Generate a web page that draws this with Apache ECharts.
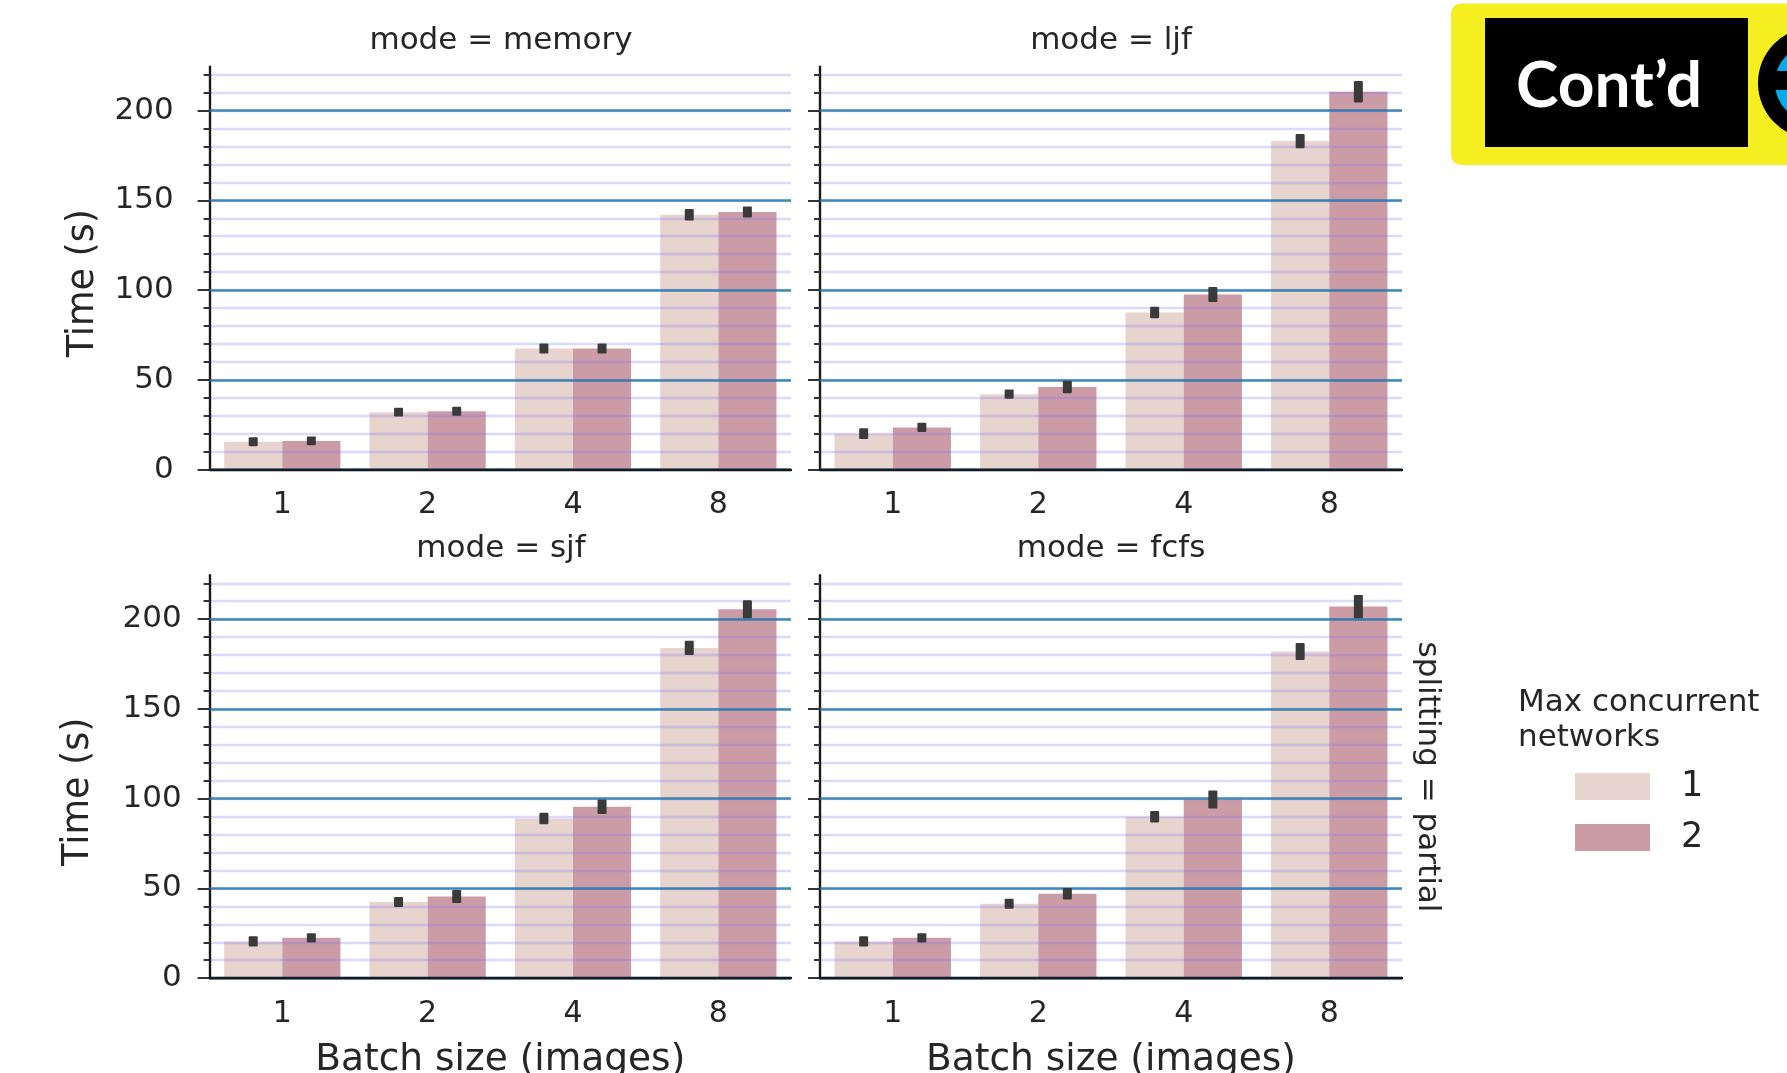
<!DOCTYPE html>
<html>
<head>
<meta charset="utf-8">
<style>
html,body{margin:0;padding:0;background:#fff;overflow:hidden}
#chart{width:1787px;height:1073px;filter:blur(0.7px)}
</style>
<script src="https://cdn.jsdelivr.net/npm/echarts@6/dist/echarts.min.js"></script>
</head>
<body>
<div id="chart"></div>
<script>
const categories = ['1','2','4','8'];
const seriesNames = ['1','2'];
const panelModes = ['memory','ljf','sjf','fcfs'];

const memory1 = [15.5, 32, 67.5, 142];
const memory2 = [16, 32.5, 67.5, 143.5];
const ljf1 = [20, 42, 87.5, 183];
const ljf2 = [23.5, 46, 97.5, 210.5];
const sjf1 = [20.5, 42.5, 89, 184];
const sjf2 = [22.5, 45.5, 95.5, 205.5];
const fcfs1 = [20.5, 41.5, 90, 182];
const fcfs2 = [22.5, 47, 99.5, 207];

const memoryErr1 = [2.5, 2.4, 2.8, 3.2];
const memoryErr2 = [2.5, 2.5, 2.8, 3];
const ljfErr1 = [3, 2.6, 3.2, 4];
const ljfErr2 = [2.6, 3.5, 4.2, 6];
const sjfErr1 = [2.8, 2.8, 3.2, 4];
const sjfErr2 = [2.6, 3.6, 4, 5];
const fcfsErr1 = [2.8, 2.8, 3.2, 4.8];
const fcfsErr2 = [2.6, 3.2, 5, 6.5];

const majorTicks = [0, 50, 100, 150, 200];
const minorTicks = [0,10,20,30,40,50,60,70,80,90,100,110,120,130,140,150,160,170,180,190,200,210,220];

const panelValues = [[memory1, memory2],[ljf1, ljf2],[sjf1, sjf2],[fcfs1, fcfs2]];
const panelErrors = [[memoryErr1, memoryErr2],[ljfErr1, ljfErr2],[sjfErr1, sjfErr2],[fcfsErr1, fcfsErr2]];

const yMax = 224.5;
const FONT = '"DejaVu Sans"';
const INK = '#262626';
const BAR_COLORS = ['#e8d4cf', '#cc9ca6'];
const panels = [
  {left: 209.6, top: 66.6, width: 581.4, height: 403, labels: true, margin: 36, nameGap: 108, xName: false, tc: 496, pad: [0, 0, 0, 0]},
  {left: 820, top: 66.6, width: 582, height: 403, labels: false, xName: false, tc: 1106, pad: [0, 0, 0, 0]},
  {left: 209.6, top: 575.2, width: 581.4, height: 403, labels: true, margin: 28, nameGap: 113, xName: true, tc: 496, pad: [6, 0, 0, 0]},
  {left: 820, top: 575.2, width: 582, height: 403, labels: false, xName: true, tc: 1106, pad: [0, 0, 0, 0]}
];

const grid = [], xAxis = [], yAxis = [], series = [], title = [];
panels.forEach((p, i) => {
  grid.push({left: p.left, top: p.top, width: p.width, height: p.height, outerBoundsMode: 'none'});
  title.push({
    text: 'mode = ' + panelModes[i],
    left: p.tc,
    top: p.top - 46 - (i > 1 ? 1 : 0),
    textAlign: 'center',
    textStyle: {fontFamily: FONT, fontSize: 31, fontWeight: 'normal', color: INK}
  });
  xAxis.push({
    type: 'category', gridIndex: i, data: categories, z: 6,
    axisLine: {onZero: false, lineStyle: {color: '#1a1a1a', width: 2.4}},
    axisTick: {alignWithLabel: true, length: 9, lineStyle: {color: '#333', width: 2}},
    axisLabel: {fontFamily: FONT, fontSize: 30, color: INK, margin: 21},
    name: p.xName ? 'Batch size (images)' : '',
    nameLocation: 'middle', nameGap: 63,
    nameTextStyle: {fontFamily: FONT, fontSize: 37.5, color: INK}
  });
  // minor ladder
  yAxis.push({
    type: 'value', gridIndex: i, position: 'left', min: 0, max: yMax, interval: 10, z: 4,
    axisLine: {show: true, lineStyle: {color: '#1a1a1a', width: 2.4}},
    axisTick: {show: true, length: 6, customValues: minorTicks, lineStyle: {color: '#333', width: 2}},
    axisLabel: {show: false},
    splitLine: {show: true, showMaxLine: true, lineStyle: {color: 'rgba(120,110,255,0.26)', width: 2.4}}
  });
  // major ladder
  yAxis.push({
    type: 'value', gridIndex: i, position: 'left', min: 0, max: yMax, interval: 50, z: 5,
    axisLine: {show: false},
    axisTick: {show: true, length: 12, customValues: majorTicks, lineStyle: {color: '#333', width: 2}},
    axisLabel: {show: p.labels, customValues: majorTicks, margin: p.margin || 20, fontFamily: FONT, fontSize: 31, color: INK, padding: p.pad},
    name: p.labels ? 'Time (s)' : '',
    nameLocation: 'middle', nameGap: p.nameGap || 0, nameRotate: 90,
    nameTextStyle: {fontFamily: FONT, fontSize: 36.5, color: INK, padding: [0, 30, 0, 0]},
    splitLine: {show: true, showMaxLine: true, lineStyle: {color: 'rgba(35,120,170,0.85)', width: 2.6}}
  });
  seriesNames.forEach((name, s) => {
    series.push({
      type: 'bar', name, xAxisIndex: i, yAxisIndex: i * 2,
      data: panelValues[i][s],
      barWidth: '40%', barGap: '0%', z: 2,
      itemStyle: {color: BAR_COLORS[s]},
      silent: true
    });
    series.push({
      type: 'custom', name: 'err' + name, xAxisIndex: i, yAxisIndex: i * 2, z: 7, silent: true,
      data: panelValues[i][s].map((v, k) => [k, v - panelErrors[i][s][k], v + panelErrors[i][s][k]]),
      encode: {x: 0, y: [1, 2]},
      renderItem: (params, api) => {
        const band = api.size([1, 0])[0];
        const off = (s === 0 ? -0.2 : 0.2) * band;
        const lo = api.coord([api.value(0), api.value(1)]);
        const hi = api.coord([api.value(0), api.value(2)]);
        return {
          type: 'rect',
          shape: {x: lo[0] + off - 4.5, y: hi[1], width: 9, height: lo[1] - hi[1], r: 1},
          style: {fill: '#3a3a3a'}
        };
      }
    });
  });
});

const graphic = [
  {type: 'rect', z: 20, shape: {x: 1451, y: 3.4, width: 400, height: 161.6, r: 10}, style: {fill: '#f5ee20'}},
  {type: 'rect', z: 21, shape: {x: 1485, y: 18, width: 263, height: 129}, style: {fill: '#000'}},
  {type: 'text', z: 22, style: {x: 1609, y: 86, text: 'Cont\u2019d', fill: '#fff', align: 'center', verticalAlign: 'middle',
    font: 'bold 64px Lato'}},
  {type: 'circle', z: 21, shape: {cx: 1814, cy: 83, r: 56}, style: {fill: '#000'}},
  {type: 'circle', z: 22, shape: {cx: 1814, cy: 83, r: 39}, style: {fill: '#00aeef'}},
  {type: 'rect', z: 23, shape: {x: 1770, y: 71, width: 60, height: 19}, style: {fill: '#000'}},
  {type: 'text', z: 10, x: 1427, y: 777, rotation: -Math.PI / 2,
    style: {x: 0, y: 0, text: 'splitting = partial', fill: INK, align: 'center', verticalAlign: 'middle', font: '31px "DejaVu Sans"'}},
  {type: 'text', z: 10, style: {x: 1518, y: 703, text: 'Max concurrent', fill: INK, align: 'left', verticalAlign: 'middle', font: '31px "DejaVu Sans"'}},
  {type: 'text', z: 10, style: {x: 1518, y: 738, text: 'networks', fill: INK, align: 'left', verticalAlign: 'middle', font: '31px "DejaVu Sans"'}}
];

const chart = echarts.init(document.getElementById('chart'), null, {renderer: 'canvas'});
chart.setOption({
  animation: false,
  backgroundColor: '#fff',
  title, grid, xAxis, yAxis, series, graphic,
  legend: {
    data: seriesNames, orient: 'vertical', left: 1570, top: 764,
    itemWidth: 75, itemHeight: 27, itemGap: 16, icon: 'rect', selectedMode: false,
    textStyle: {fontFamily: FONT, fontSize: 35, color: INK, padding: [8, 0, 0, 26], lineHeight: 27}
  }
});
</script>
</body>
</html>
